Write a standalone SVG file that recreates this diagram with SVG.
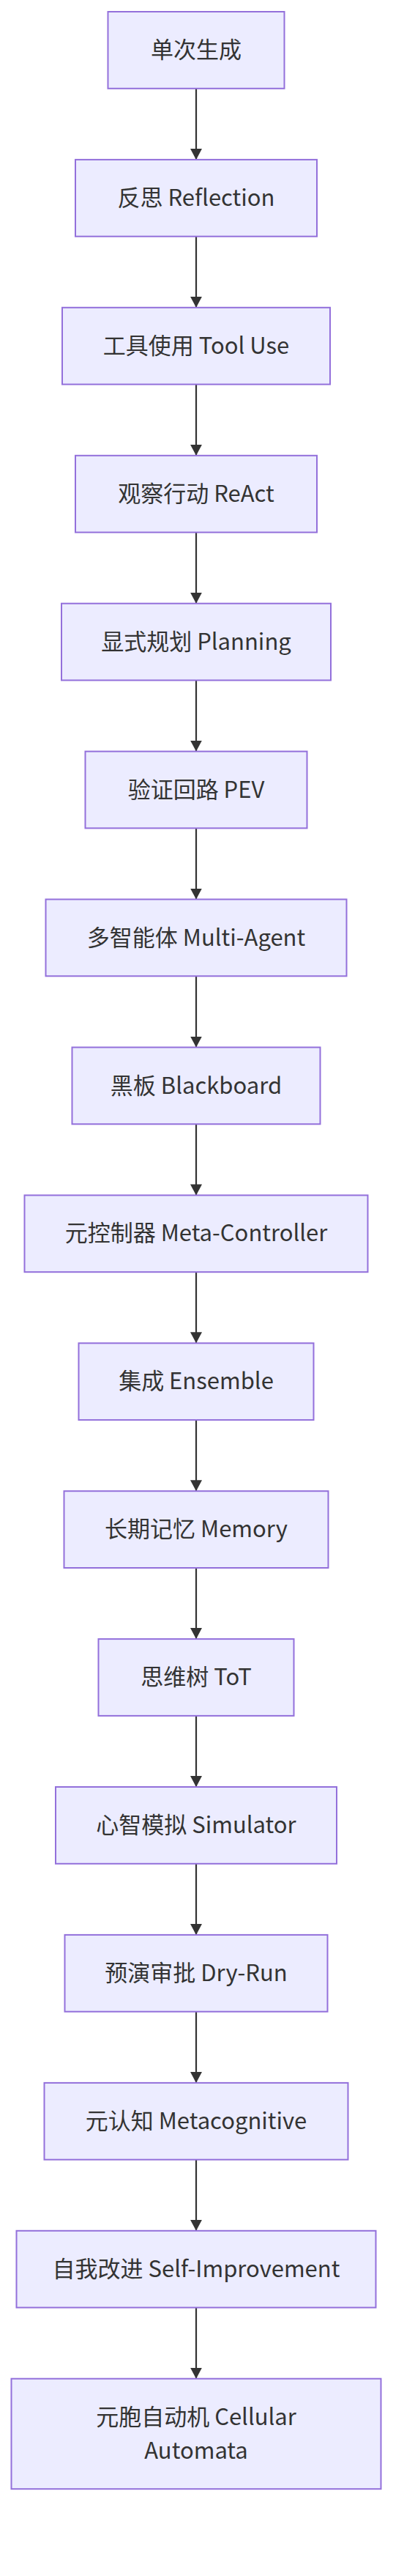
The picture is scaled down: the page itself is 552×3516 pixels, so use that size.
<svg xmlns="http://www.w3.org/2000/svg" width="552" height="3516" viewBox="0 0 552 3516">
<style>
.n rect{fill:#ECECFF;stroke:#9370DB;stroke-width:2}
.n text{font-family:"Noto Sans CJK SC","Noto Sans",sans-serif;font-size:31px;fill:#333;text-anchor:middle}
.e line{stroke:#333;stroke-width:2.2}
</style>
<defs>
<marker id="ah" markerUnits="userSpaceOnUse" markerWidth="16" markerHeight="16" refX="15" refY="8" orient="auto">
<path d="M0,0 L15,8 L0,16 Z" fill="#333"/>
</marker>
</defs>
<rect width="552" height="3516" fill="#fff"/>
<g id="edges" class="e">
<line x1="268" y1="120.8" x2="268" y2="217.9" marker-end="url(#ah)"/>
<line x1="268" y1="322.7" x2="268" y2="419.8" marker-end="url(#ah)"/>
<line x1="268" y1="524.6" x2="268" y2="621.8" marker-end="url(#ah)"/>
<line x1="268" y1="726.6" x2="268" y2="823.7" marker-end="url(#ah)"/>
<line x1="268" y1="928.5" x2="268" y2="1025.6" marker-end="url(#ah)"/>
<line x1="268" y1="1130.4" x2="268" y2="1227.5" marker-end="url(#ah)"/>
<line x1="268" y1="1332.3" x2="268" y2="1429.5" marker-end="url(#ah)"/>
<line x1="268" y1="1534.3" x2="268" y2="1631.4" marker-end="url(#ah)"/>
<line x1="268" y1="1736.2" x2="268" y2="1833.3" marker-end="url(#ah)"/>
<line x1="268" y1="1938.1" x2="268" y2="2035.2" marker-end="url(#ah)"/>
<line x1="268" y1="2140.0" x2="268" y2="2237.1" marker-end="url(#ah)"/>
<line x1="268" y1="2341.9" x2="268" y2="2439.0" marker-end="url(#ah)"/>
<line x1="268" y1="2543.8" x2="268" y2="2640.9" marker-end="url(#ah)"/>
<line x1="268" y1="2745.7" x2="268" y2="2842.9" marker-end="url(#ah)"/>
<line x1="268" y1="2947.7" x2="268" y2="3044.8" marker-end="url(#ah)"/>
<line x1="268" y1="3149.6" x2="268" y2="3246.7" marker-end="url(#ah)"/>
</g>
<g id="n1" class="n"><rect x="147.5" y="16" width="241" height="104.8"/><text x="268" y="79">单次生成</text></g>
<g id="n2" class="n"><rect x="103" y="217.9" width="330" height="104.8"/><text x="268" y="280.9">反思 Reflection</text></g>
<g id="n3" class="n"><rect x="85" y="419.8" width="366" height="104.8"/><text x="268" y="482.8">工具使用 Tool Use</text></g>
<g id="n4" class="n"><rect x="103" y="621.8" width="330" height="104.8"/><text x="268" y="684.8">观察行动 ReAct</text></g>
<g id="n5" class="n"><rect x="84" y="823.7" width="368" height="104.8"/><text x="268" y="886.7">显式规划 Planning</text></g>
<g id="n6" class="n"><rect x="116.5" y="1025.6" width="303" height="104.8"/><text x="268" y="1088.6">验证回路 PEV</text></g>
<g id="n7" class="n"><rect x="62.5" y="1227.5" width="411" height="104.8"/><text x="268" y="1290.5">多智能体 Multi-Agent</text></g>
<g id="n8" class="n"><rect x="98.5" y="1429.5" width="339" height="104.8"/><text x="268" y="1492.5">黑板 Blackboard</text></g>
<g id="n9" class="n"><rect x="33.5" y="1631.4" width="469" height="104.8"/><text x="268" y="1694.4">元控制器 Meta-Controller</text></g>
<g id="n10" class="n"><rect x="107.5" y="1833.3" width="321" height="104.8"/><text x="268" y="1896.3">集成 Ensemble</text></g>
<g id="n11" class="n"><rect x="87.5" y="2035.2" width="361" height="104.8"/><text x="268" y="2098.2">长期记忆 Memory</text></g>
<g id="n12" class="n"><rect x="134.5" y="2237.1" width="267" height="104.8"/><text x="268" y="2300.1">思维树 ToT</text></g>
<g id="n13" class="n"><rect x="76" y="2439.0" width="384" height="104.8"/><text x="268" y="2502">心智模拟 Simulator</text></g>
<g id="n14" class="n"><rect x="88.5" y="2640.9" width="359" height="104.8"/><text x="268" y="2703.9">预演审批 Dry-Run</text></g>
<g id="n15" class="n"><rect x="60.5" y="2842.9" width="415" height="104.8"/><text x="268" y="2905.9">元认知 Metacognitive</text></g>
<g id="n16" class="n"><rect x="22.5" y="3044.8" width="491" height="104.8"/><text x="268" y="3107.8">自我改进 Self-Improvement</text></g>
<g id="n17" class="n"><rect x="15.5" y="3246.7" width="505" height="150.5"/><text x="268" y="3309.5">元胞自动机 Cellular</text><text x="268" y="3356">Automata</text></g>
</svg>
